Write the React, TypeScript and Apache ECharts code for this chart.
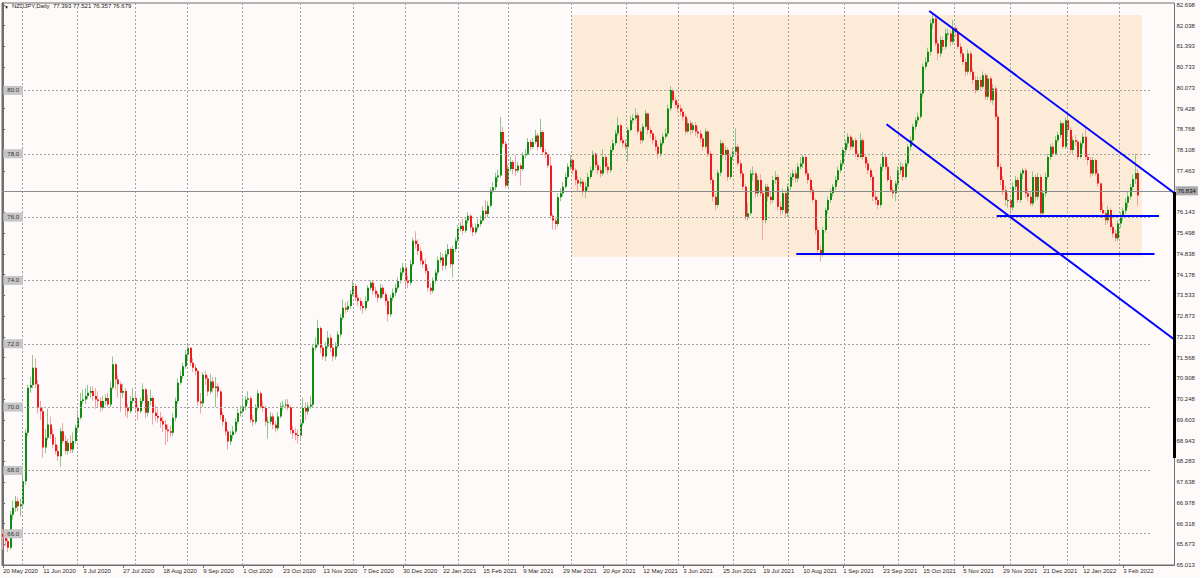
import React, { useEffect, useRef } from 'react';
import * as echarts from 'echarts';

// ---------- data ----------
const symbolTitle = 'NZDJPY,Daily';
const headerValues = ['77.393', '77.521', '76.357', '76.679'];
const firstOpen = 66.0;

const closes = [
65.90,65.77,65.56,66.60,66.82,67.03,66.87,66.93,67.66,69.19,
70.61,70.70,71.24,70.72,69.98,69.87,68.72,69.03,69.45,69.14,
68.82,68.61,68.45,69.24,68.93,68.61,68.87,68.66,68.93,69.35,
69.66,70.19,70.24,70.35,70.45,70.51,70.35,70.24,70.19,69.98,
70.19,70.29,70.08,70.61,71.35,70.87,70.72,70.45,70.51,69.98,
69.87,70.19,70.29,69.98,69.87,70.19,70.56,69.82,70.19,70.29,
69.82,69.72,69.66,69.56,69.45,69.29,69.24,69.19,69.66,70.19,
70.77,70.98,71.29,71.66,71.87,71.40,71.24,71.14,70.18,70.12,
71.02,70.90,70.49,70.81,70.60,70.65,70.49,69.75,69.54,69.23,
68.91,69.12,69.23,69.54,69.81,69.86,70.02,70.23,70.28,69.60,
69.54,69.97,70.44,70.02,69.97,69.54,69.54,69.70,69.44,69.33,
69.70,70.02,70.05,70.08,69.99,69.28,69.17,69.12,69.10,69.49,
69.97,69.86,70.02,70.07,71.87,71.97,72.50,71.87,71.60,71.92,
72.19,71.87,71.60,71.92,72.29,72.82,73.14,73.08,73.19,73.56,
73.82,73.45,73.35,73.19,73.12,73.35,73.77,73.93,73.67,73.56,
73.45,73.77,73.56,73.35,72.93,73.45,73.61,73.77,73.98,74.25,
74.41,73.98,73.93,74.51,75.25,75.15,74.93,74.62,74.51,74.30,
73.77,73.67,73.98,74.25,74.64,74.72,74.46,74.83,74.99,74.51,
74.99,75.25,75.62,75.73,75.57,75.89,76.04,75.67,75.52,75.67,
75.78,75.89,76.20,76.10,76.36,76.84,76.94,77.26,77.31,78.69,
78.32,77.00,77.52,77.74,77.52,77.47,77.63,77.52,77.95,78.00,
78.37,78.21,78.37,78.58,78.21,78.69,78.05,77.98,77.63,76.04,
75.89,75.78,76.63,76.75,76.96,77.27,77.59,77.80,77.48,77.17,
77.06,77.12,76.80,76.96,77.27,77.48,78.00,77.64,77.48,77.38,
77.90,77.59,77.48,78.12,78.33,78.64,78.90,78.43,78.33,78.22,
78.75,79.06,79.12,79.22,78.70,78.43,78.85,79.27,78.75,78.64,
78.43,78.22,78.00,78.33,78.54,78.64,79.43,80.01,79.69,79.54,
79.43,79.33,79.17,78.70,78.96,78.75,78.90,78.70,78.64,78.48,
78.22,78.70,78.00,77.17,76.64,76.38,77.40,78.33,77.96,78.12,
77.27,77.90,78.06,78.22,77.69,77.38,76.96,76.01,76.12,77.38,
77.38,76.75,77.17,76.75,75.90,76.96,76.64,76.54,77.17,77.27,
76.33,76.22,76.75,76.12,76.96,77.27,77.38,77.22,77.59,77.69,
77.90,77.38,77.17,76.85,76.54,75.59,74.96,74.85,75.59,76.22,
76.54,76.75,76.96,77.17,77.48,77.69,78.12,78.33,78.54,78.22,
78.43,78.00,77.90,78.43,77.90,77.69,77.48,77.27,76.64,76.54,
76.38,77.59,77.90,77.59,77.17,76.85,76.75,77.06,77.48,77.59,
77.27,77.69,78.22,78.43,78.85,79.06,79.17,79.90,80.75,80.90,
81.22,82.12,82.27,81.48,81.17,81.59,81.38,81.80,81.80,81.54,
81.96,81.85,81.38,81.17,80.90,80.59,81.17,80.59,80.33,80.01,
80.33,80.12,80.48,79.80,80.38,79.69,80.06,79.17,77.59,77.17,
76.85,76.54,76.54,76.30,76.96,77.17,76.54,77.38,77.48,76.75,
76.64,76.43,77.27,76.64,77.27,76.12,76.75,77.27,77.90,78.22,
78.00,78.43,78.59,78.96,78.22,79.06,78.75,78.12,78.43,78.38,
77.90,78.33,78.54,77.90,77.80,77.38,77.80,77.38,77.06,76.22,
76.12,75.90,76.22,75.69,75.48,75.33,75.80,76.00,76.20,76.45,
76.65,76.95,77.20,77.39,76.68
];

const highs = [
66.15,66.05,65.85,66.72,67.05,67.20,67.15,67.10,67.80,69.30,
70.70,70.95,71.65,71.55,70.85,70.20,70.00,69.30,69.95,69.70,
69.30,69.05,68.80,69.35,69.50,69.10,69.00,69.10,69.20,69.45,
69.90,70.45,70.55,70.60,70.70,70.65,70.65,70.60,70.50,70.30,
70.35,70.40,70.45,70.80,71.60,71.40,71.00,70.80,70.75,70.60,
70.10,70.35,70.60,70.50,70.10,70.30,70.75,70.60,70.40,70.55,
70.35,70.05,69.95,69.85,69.70,69.60,69.45,69.40,69.80,70.30,
70.90,71.15,71.40,71.80,71.98,71.90,71.55,71.35,71.20,70.45,
71.10,71.15,71.00,71.05,70.95,70.95,70.75,70.55,69.85,69.65,
69.30,69.25,69.40,69.65,69.95,70.05,70.30,70.35,70.50,70.35,
69.75,70.10,70.55,70.50,70.20,70.05,69.70,69.85,69.80,69.55,
69.85,70.15,70.20,70.25,70.25,70.05,69.40,69.35,69.30,69.60,
70.30,70.15,70.15,70.35,72.00,72.20,72.76,72.55,71.95,72.05,
72.40,72.30,71.95,72.05,72.40,72.95,73.40,73.30,73.35,73.70,
73.98,73.90,73.55,73.45,73.30,73.50,73.85,74.00,74.00,73.80,
73.65,73.90,73.85,73.65,73.45,73.55,73.75,73.90,74.10,74.40,
74.55,74.50,74.15,74.65,75.35,75.55,75.30,75.05,74.85,74.70,
74.40,73.90,74.10,74.35,74.75,74.90,74.85,74.95,75.15,75.05,
75.10,75.35,75.75,75.85,75.95,76.00,76.15,76.10,75.80,75.80,
75.95,76.05,76.35,76.55,76.50,76.95,77.10,77.40,77.50,79.16,
78.85,78.40,77.65,77.90,77.80,77.95,77.75,77.70,78.05,78.15,
78.50,78.45,78.50,78.75,78.65,79.10,78.75,78.15,78.00,77.90,
76.10,76.00,76.75,76.90,77.10,77.40,77.70,77.96,77.85,77.55,
77.30,77.25,77.20,77.10,77.40,77.60,78.10,78.05,77.75,77.60,
78.15,77.95,77.70,78.25,78.45,78.75,79.17,78.95,78.55,78.45,
78.85,79.20,79.25,79.43,79.30,78.80,78.95,79.38,79.30,78.85,
78.70,78.55,78.30,78.45,78.65,78.80,79.55,80.14,80.05,79.80,
79.65,79.55,79.45,79.25,79.10,79.05,79.00,79.00,78.85,78.75,
78.60,78.80,78.75,78.10,77.25,76.75,77.50,78.45,78.40,78.25,
78.20,78.00,78.20,78.80,78.30,77.80,77.45,77.05,76.45,77.50,
77.60,77.45,77.30,77.35,76.85,77.05,77.05,76.80,77.30,77.45,
77.35,76.50,76.90,76.85,77.05,77.40,77.50,77.50,77.70,77.90,
77.96,77.95,77.50,77.25,76.95,76.60,75.70,75.10,75.70,76.30,
76.65,76.90,77.05,77.30,77.60,77.80,78.20,78.45,78.65,78.60,
78.50,78.50,78.10,78.65,78.50,78.00,77.80,77.55,77.35,76.85,
76.65,77.70,78.05,78.00,77.70,77.30,76.95,77.15,77.60,77.75,
77.70,77.80,78.30,78.55,78.95,79.15,79.30,80.00,80.85,81.05,
81.35,82.25,82.43,82.40,81.60,81.70,81.70,81.95,81.95,81.90,
82.22,82.05,81.95,81.50,81.30,81.00,81.30,81.25,80.70,80.45,
80.45,80.45,80.60,80.55,80.50,80.45,80.20,80.15,79.25,77.70,
77.30,77.00,76.75,76.60,77.10,77.30,77.25,77.45,77.55,77.55,
76.90,76.80,77.45,77.35,77.40,77.35,76.85,77.40,78.00,78.30,
78.35,78.55,78.70,79.05,79.00,79.15,79.20,78.85,78.55,78.60,
78.45,78.40,78.65,78.90,78.00,77.90,77.90,77.85,77.50,77.10,
76.45,76.20,76.35,76.30,75.80,75.60,75.90,76.15,76.30,76.60,
76.80,77.05,77.35,78.00,77.52
];

const lows = [
65.50,65.60,65.42,65.50,66.45,66.70,66.70,66.55,66.85,67.55,
69.10,70.45,70.60,70.60,69.80,69.60,68.40,68.55,68.95,69.00,
68.70,68.50,68.30,68.12,68.85,68.50,68.50,68.55,68.55,68.85,
69.25,69.60,70.10,70.10,70.25,70.30,70.20,69.95,70.00,69.85,
69.90,70.05,70.00,70.00,70.55,70.55,70.30,69.85,70.30,69.70,
69.65,69.80,70.10,69.85,69.60,69.80,70.10,69.65,69.70,70.05,
69.45,69.55,69.50,69.35,69.20,68.80,68.90,69.05,69.10,69.55,
70.10,70.70,70.90,71.20,71.50,71.30,71.10,71.00,70.05,69.80,
70.00,70.70,70.35,70.40,70.45,70.00,70.30,69.60,69.40,69.10,
68.65,68.80,69.00,69.15,69.45,69.70,69.80,69.90,70.10,69.50,
69.40,69.45,69.90,69.95,69.85,69.40,69.00,69.45,69.30,69.20,
69.25,69.65,69.90,69.95,69.90,69.15,69.00,68.95,68.85,69.00,
69.40,69.60,69.75,69.95,70.00,71.80,71.90,71.70,71.50,71.45,
71.85,71.75,71.45,71.50,71.85,72.20,72.75,72.95,73.00,73.10,
73.50,73.35,73.20,73.05,72.95,73.05,73.30,73.70,73.55,73.45,
73.30,73.40,73.45,73.20,72.70,72.85,73.35,73.50,73.70,73.90,
74.15,73.80,73.75,73.85,74.45,75.00,74.80,74.50,74.40,74.20,
73.65,73.55,73.60,73.90,74.15,74.55,74.30,74.35,74.75,74.40,
74.10,74.90,75.20,75.55,75.45,75.50,75.80,75.55,75.40,75.45,
75.60,75.70,75.85,75.95,76.00,76.30,76.75,76.85,77.10,77.25,
78.20,76.90,76.95,77.45,77.35,77.30,77.40,77.00,77.45,77.85,
77.95,78.10,78.15,78.30,78.10,78.15,77.95,77.85,77.55,75.95,
75.60,75.60,75.70,76.50,76.65,76.90,77.20,77.50,77.35,77.00,
76.80,76.95,76.65,76.60,76.85,77.20,77.40,77.55,77.35,77.25,
77.30,77.50,77.35,77.40,78.05,78.25,78.55,78.35,78.20,78.10,
77.75,78.70,78.95,79.05,78.60,78.30,78.35,78.80,78.60,78.50,
78.30,78.10,77.85,77.90,78.25,78.45,78.55,79.35,79.60,79.45,
79.30,79.20,79.05,78.60,78.65,78.60,78.65,78.55,78.50,78.35,
78.10,78.15,77.90,77.05,76.50,76.22,76.30,77.30,77.85,77.80,
77.15,77.20,77.80,77.95,77.60,77.25,76.85,75.90,75.90,76.05,
77.15,76.60,76.65,76.65,75.27,75.80,76.50,76.40,76.45,77.05,
76.20,76.05,76.10,76.00,76.00,76.85,77.15,77.10,77.10,77.50,
77.55,77.30,77.05,76.75,76.45,75.45,74.85,74.60,74.75,75.50,
76.10,76.45,76.65,76.85,77.10,77.40,77.60,78.00,78.20,78.10,
78.15,77.90,77.80,77.85,77.80,77.55,77.35,77.15,76.50,76.40,
76.25,76.30,77.45,77.50,77.10,76.80,76.60,76.50,76.95,77.35,
77.15,77.20,77.60,78.10,78.35,78.75,78.95,79.10,79.80,80.65,
80.85,81.10,81.95,81.40,80.95,81.05,81.25,81.30,81.60,81.40,
81.45,81.70,81.30,81.05,80.80,80.45,80.50,80.50,80.20,79.90,
79.95,80.00,80.05,79.70,79.70,79.60,79.55,79.05,77.50,77.00,
76.70,76.35,76.30,76.00,76.20,76.85,76.45,76.45,77.20,76.60,
76.50,76.35,76.35,76.50,76.55,76.01,76.02,76.65,77.20,77.80,
77.90,77.95,78.35,78.50,78.15,78.15,78.60,78.00,78.00,78.25,
77.80,77.85,78.20,77.80,77.65,77.25,77.30,77.30,76.95,76.15,
75.95,75.75,75.80,75.60,75.35,75.22,75.25,75.65,75.90,76.10,
76.30,76.55,76.85,77.05,76.36
];

const dateLabels = [
  '20 May 2020', '11 Jun 2020', '3 Jul 2020', '27 Jul 2020', '18 Aug 2020', '9 Sep 2020',
  '1 Oct 2020', '23 Oct 2020', '13 Nov 2020', '7 Dec 2020', '30 Dec 2020', '22 Jan 2021',
  '15 Feb 2021', '9 Mar 2021', '29 Mar 2021', '20 Apr 2021', '12 May 2021', '3 Jun 2021',
  '25 Jun 2021', '19 Jul 2021', '10 Aug 2021', '1 Sep 2021', '23 Sep 2021', '15 Oct 2021',
  '5 Nov 2021', '29 Nov 2021', '21 Dec 2021', '12 Jan 2022', '3 Feb 2022'
];
const labelEvery = 16;
const slotCount = 469;

const rightLabels = [
  '82.698', '82.038', '81.393', '80.733', '80.073', '79.428', '78.768', '78.108', '77.463',
  '76.143', '75.498', '74.838', '74.178', '73.533', '72.873', '72.213', '71.568', '70.908',
  '70.248', '69.603', '68.943', '68.283', '67.638', '66.978', '66.318', '65.673', '65.013'
];
const priceLevels = [66, 68, 70, 72, 74, 76, 78, 80];
const levelSpan = [8.3, 458.7];
const lastPrice = 76.834;
const monthLines = [7.5, 29.5, 52.7, 73.5, 95.5, 118.7, 139.9, 160.7, 181.9, 201.9, 227.1,
  249.1, 269.9, 291.9, 313.9, 336.3, 358.1, 380.4, 402.7, 425.4, 446.5];

const zoneCorners = [[227.1, 82.38], [455.4, 74.75]];
const trendUpper = [[370.4, 82.51], [468.3, 76.77]];
const trendLower = [[353.3, 78.93], [468.3, 72.14]];
const supportHigh = [[397.4, 76.034], [462.3, 76.034]];
const supportLow = [[317.2, 74.835], [460.5, 74.835]];
const scrollMark = [[468.5, 76.79], [468.5, 68.39]];

// ---------- styles ----------
const Y_MIN = 65.013;
const Y_MAX = 82.761;
const FONT = 'Liberation Sans, Arial, sans-serif';
const frameColor = '#6e6e6e';
const gridColor = '#a3a3a3';
const bodyUp = '#0f8c0f';
const bodyDown = '#ee1c1c';
const wickUp = '#8cc98c';
const wickDown = '#f3a3a3';

export default function App() {
  const ref = useRef<HTMLDivElement>(null);

  useEffect(() => {
    if (!ref.current) return;
    const chart = echarts.init(ref.current, undefined, { renderer: 'svg' });

    const slots = Array.from({ length: slotCount }, (_, i) => String(i));
    const candleData = closes.map((c, i) => {
      const o = i === 0 ? firstOpen : closes[i - 1];
      return [i, o, c, lows[i], highs[i]];
    });
    const labelInterval = (index: number) =>
      index % labelEvery === 0 && index / labelEvery < dateLabels.length;

    const levelLines = priceLevels.map((lv) => [
      { name: lv.toFixed(1), coord: [levelSpan[0], lv] },
      { coord: [levelSpan[1], lv] },
    ]);
    const verticalLines = monthLines.map((v) => ({ xAxis: v, label: { show: false } }));

    const blueLine = (data: number[][]) => ({
      type: 'line',
      xAxisIndex: 1,
      yAxisIndex: 0,
      data,
      symbol: 'none',
      showSymbol: false,
      silent: true,
      z: 5,
      lineStyle: { color: '#0000ff', width: 2 },
    });

    const option: any = {
      animation: false,
      backgroundColor: '#fffafa',
      textStyle: { fontFamily: FONT },
      grid: {
        left: 2, top: 3, width: 1172.5, height: 562,
        show: true, borderColor: frameColor, borderWidth: 1, backgroundColor: 'transparent',
      },
      graphic: [
        { type: 'text', left: 4, top: 4, style: { text: '▼', fontSize: 5, fill: '#222' } },
        {
          type: 'text', left: 12, top: 3,
          style: { text: symbolTitle + '  ' + headerValues.join(' '), fontSize: 6, fill: '#222', fontFamily: FONT },
        },
      ],
      xAxis: [
        {
          type: 'category',
          data: slots,
          boundaryGap: true,
          axisLine: { show: true, lineStyle: { color: frameColor } },
          axisTick: { show: true, alignWithLabel: true, interval: labelInterval, length: 3, lineStyle: { color: frameColor } },
          axisLabel: {
            interval: labelInterval,
            formatter: (_v: string, idx: number) => dateLabels[Math.round(idx / labelEvery)] ?? '',
            align: 'left', fontSize: 6, color: '#2a2a2a', margin: 3, fontFamily: FONT,
          },
          splitLine: { show: false },
        },
        { type: 'value', min: -0.5, max: slotCount - 0.5, show: false },
      ],
      yAxis: [
        {
          type: 'value', position: 'right', min: Y_MIN, max: Y_MAX, interval: 0.655,
          axisLine: { show: true, lineStyle: { color: frameColor } },
          axisTick: { show: true, length: 2, lineStyle: { color: frameColor } },
          axisLabel: {
            fontSize: 6, color: '#2a2a2a', margin: 2, showMaxLabel: false, fontFamily: FONT,
            formatter: (v: number) => {
              const hit = rightLabels.find((s) => Math.abs(parseFloat(s) - v) < 0.02);
              return hit ?? '';
            },
          },
          splitLine: { show: false },
        },
        {
          type: 'value', position: 'left', min: 65.0, max: 65.0 + (Y_MAX - Y_MIN), interval: 0.5,
          axisLine: { show: true, lineStyle: { color: frameColor } },
          axisTick: { show: true, inside: true, length: 2, lineStyle: { color: frameColor } },
          axisLabel: { show: false },
          splitLine: { show: false },
        },
      ],
      series: [
        {
          type: 'line', xAxisIndex: 1, yAxisIndex: 0, data: [], z: 1, silent: true,
          markArea: {
            silent: true,
            itemStyle: { color: '#fbebd7' },
            data: [[{ coord: zoneCorners[0] }, { coord: zoneCorners[1] }]],
          },
        },
        {
          type: 'line', xAxisIndex: 1, yAxisIndex: 0, data: [], z: 2, silent: true,
          markLine: {
            silent: true,
            symbol: ['none', 'none'],
            lineStyle: { color: gridColor, type: [2, 2], width: 1 },
            label: {
              show: true, position: 'start', formatter: '{b}', distance: 1,
              backgroundColor: '#c6c6c6', color: '#333', fontSize: 6, padding: [2, 4, 1, 4], fontFamily: FONT,
            },
            emphasis: { disabled: true },
            data: [...levelLines, ...verticalLines],
          },
        },
        {
          type: 'line', xAxisIndex: 1, yAxisIndex: 0, data: [], z: 2, silent: true,
          markLine: {
            silent: true,
            symbol: ['none', 'none'],
            lineStyle: { color: '#8c8c8c', type: 'solid', width: 1 },
            label: {
              show: true, position: 'end', formatter: '{b}', distance: 1,
              backgroundColor: '#a9a9a9', color: '#111', fontSize: 6, padding: [2, 2, 1, 2], fontFamily: FONT,
            },
            emphasis: { disabled: true },
            data: [{ yAxis: lastPrice, name: lastPrice.toFixed(3) }],
          },
        },
        {
          type: 'custom',
          xAxisIndex: 0,
          yAxisIndex: 0,
          z: 3,
          silent: true,
          data: candleData,
          encode: { x: 0, y: [1, 2, 3, 4] },
          renderItem: (_params: any, api: any) => {
            const i = api.value(0);
            const o = api.value(1);
            const c = api.value(2);
            const l = api.value(3);
            const h = api.value(4);
            const pO = api.coord([i, o]);
            const pC = api.coord([i, c]);
            const pL = api.coord([i, l]);
            const pH = api.coord([i, h]);
            const up = c >= o;
            const cx = Math.round(pO[0]);
            const top = Math.min(pO[1], pC[1]);
            const bot = Math.max(pO[1], pC[1]);
            return {
              type: 'group',
              children: [
                {
                  type: 'line',
                  shape: { x1: cx - 0.5, y1: pH[1], x2: cx - 0.5, y2: pL[1] },
                  style: { stroke: up ? wickUp : wickDown, lineWidth: 1 },
                },
                {
                  type: 'rect',
                  shape: { x: cx - 1, y: top, width: 2, height: Math.max(1, bot - top) },
                  style: { fill: up ? bodyUp : bodyDown },
                },
              ],
            };
          },
        },
        blueLine(trendUpper),
        blueLine(trendLower),
        blueLine(supportHigh),
        blueLine(supportLow),
        {
          type: 'line', xAxisIndex: 1, yAxisIndex: 0, data: scrollMark, symbol: 'none', showSymbol: false,
          silent: true, clip: false, z: 6, lineStyle: { color: '#000', width: 3 },
        },
      ],
    };

    chart.setOption(option);
    return () => chart.dispose();
  }, []);

  return (
    <div
      ref={ref}
      style={{ position: 'fixed', left: 0, top: 0, width: 1200, height: 578 }}
    />
  );
}
